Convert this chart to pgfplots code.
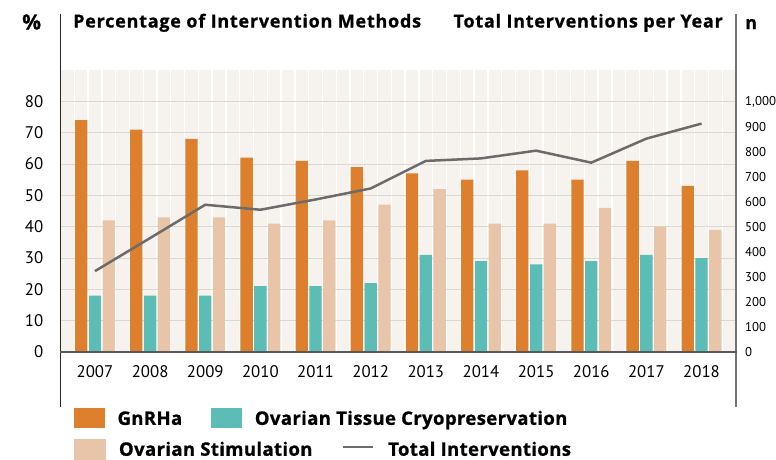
\documentclass[border=0pt]{standalone}
\usepackage{pgfplots}
\usepackage{pgfplotstable}
\pgfplotsset{compat=1.18}
\usepackage{fontspec}
\setmainfont{PT Sans}
\newfontfamily\titlefont{Open Sans}[LetterSpace=4.2, BoldFeatures={FakeBold=0.8}]
\newfontfamily\legfont{Open Sans}[LetterSpace=1.8, BoldFeatures={FakeBold=0.8}]
\definecolor{cOrange}{HTML}{DE7F2D}
\definecolor{cTeal}{HTML}{5BBDB5}
\definecolor{cBeige}{HTML}{E8C5A9}
\definecolor{cLine}{HTML}{6B6B6B}
\definecolor{cBg}{HTML}{F6F3EF}
\definecolor{cGrid}{HTML}{DCD7D2}

\pgfplotstableread{
idx year gnrha tissue stim total
0 2007 74 18 42 323
1 2008 71 18 43 455
2 2009 68 18 43 588
3 2010 62 21 41 568
4 2011 61 21 42 609
5 2012 59 22 47 653
6 2013 57 31 52 763
7 2014 55 29 41 773
8 2015 58 28 41 804
9 2016 55 29 46 756
10 2017 61 31 40 852
11 2018 53 30 39 912
}\datatable

\begin{document}
\begin{tikzpicture}
\useasboundingbox (-60.5pt,-107pt) rectangle (715.5pt,352pt);
\begin{axis}[
  at={(0pt,0pt)}, anchor=south west,
  width=675.5pt, height=282pt, scale only axis,
  xmin=-0.625, xmax=11.625, ymin=0, ymax=90,
  axis background/.style={fill=cBg},
  axis line style={draw=none},
  ybar, bar width=12.3pt,
  xtick={0,...,11},
  xticklabels={2007,2008,2009,2010,2011,2012,2013,2014,2015,2016,2017,2018},
  minor xtick={-0.375,-0.125,...,11.5},
  xminorgrids, minor x grid style={white, line width=1.3pt},
  ymajorgrids, major y grid style={cGrid, line width=1pt},
  ytick={0,10,...,80},
  major tick length=0pt, minor tick length=0pt,
  tick style={draw=none},
  /pgf/number format/assume math mode=true,
  xticklabel style={font=\fontsize{16.8}{18}\selectfont, anchor=north, inner sep=0pt, yshift=-13pt},
  yticklabel style={font=\fontsize{16.8}{18}\selectfont, anchor=east, inner sep=0pt, xshift=-17pt},
  legend columns=2,
  legend cell align=left,
  legend style={at={(0.019,-0.1996)}, anchor=north west, draw=none, fill=none, inner sep=0pt,
    font=\legfont\bfseries\fontsize{18.6}{21}\selectfont,
    nodes={inner sep=0pt, text height=13.3pt, text depth=0pt},
    /tikz/every odd column/.append style={column sep=13pt},
    /tikz/every even column/.append style={column sep=28.5pt}},
]
\addplot[fill=cOrange, draw=none, bar shift=-13.786pt,
  legend image code/.code={\fill[cOrange] (0pt,-9.7pt) rectangle (31pt,9.7pt);}]
  table[x=idx, y=gnrha]{\datatable};
\addlegendentry{GnRHa}
\addplot[fill=cTeal, draw=none, bar shift=0pt,
  legend image code/.code={\fill[cTeal] (0pt,-9.7pt) rectangle (31pt,9.7pt);}]
  table[x=idx, y=tissue]{\datatable};
\addlegendentry{Ovarian Tissue Cryopreservation}
\addplot[fill=cBeige, draw=none, bar shift=13.786pt, forget plot]
  table[x=idx, y=stim]{\datatable};
\end{axis}
\begin{axis}[
  at={(0pt,0pt)}, anchor=south west,
  width=675.5pt, height=282pt, scale only axis,
  xmin=-0.625, xmax=11.625, ymin=0, ymax=1126,
  hide x axis,
  axis line style={draw=none},
  ytick={0,100,...,1000},
  yticklabel pos=right,
  major tick length=0pt, tick style={draw=none},
  /pgf/number format/assume math mode=true,
  yticklabel style={font=\fontsize{12.8}{15}\selectfont, anchor=west, inner sep=0pt, xshift=9pt},
  legend columns=2,
  legend cell align=left,
  legend style={at={(0.019,-0.3086)}, anchor=north west, draw=none, fill=none, inner sep=0pt,
    font=\legfont\bfseries\fontsize{18.6}{21}\selectfont,
    nodes={inner sep=0pt, text height=13.3pt, text depth=0pt},
    /tikz/every odd column/.append style={column sep=14pt},
    /tikz/every even column/.append style={column sep=29pt}},
]
\addlegendimage{legend image code/.code={\fill[cBeige] (0pt,-9.7pt) rectangle (31pt,9.7pt);}}
\addlegendentry{Ovarian Stimulation}
\addplot[cLine, line width=2.5pt, mark=none,
  legend image code/.code={\draw[cLine, line width=2.6pt] (0pt,2pt) -- (30pt,2pt);}]
  table[x=idx, y=total]{\datatable};
\addlegendentry{Total Interventions}
\end{axis}
% frame lines
\draw[color=black!85, line width=1.2pt] (-0.3pt,338pt) -- (-0.3pt,-55pt);
\draw[color=black!55, line width=1.8pt] (675.5pt,338pt) -- (675.5pt,-55pt);
\draw[color=black!65, line width=2pt] (-0.5pt,0pt) -- (676pt,0pt);
% titles
\node[anchor=base west, inner sep=0pt, font=\titlefont\bfseries\fontsize{21}{23}\selectfont] at (-38.5pt,322.5pt) {\%};
\node[anchor=base west, inner sep=0pt, font=\titlefont\bfseries\fontsize{18}{20}\selectfont] at (12.5pt,324.5pt) {Percentage of Intervention Methods};
\node[anchor=base east, inner sep=0pt, font=\titlefont\bfseries\fontsize{18}{20}\selectfont] at (662.5pt,324.5pt) {Total Interventions per Year};
\node[anchor=base west, inner sep=0pt, font=\titlefont\bfseries\fontsize{18}{20}\selectfont] at (684.5pt,323pt) {n};
\end{tikzpicture}
\end{document}
